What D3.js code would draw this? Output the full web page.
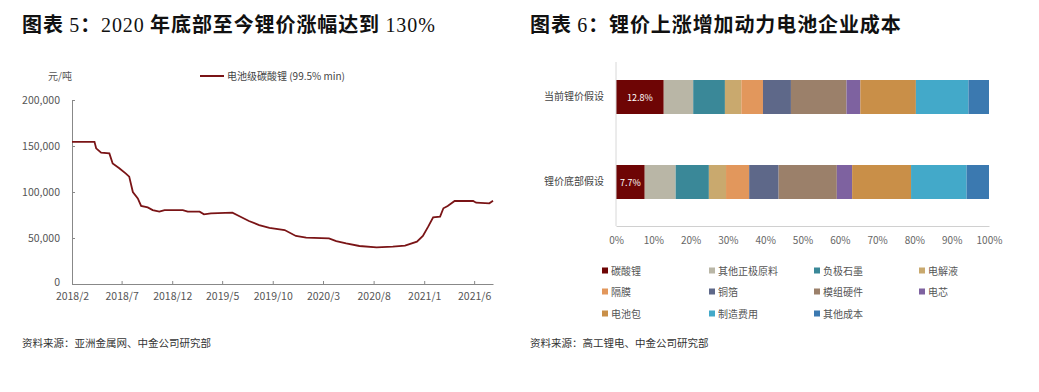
<!DOCTYPE html>
<html><head><meta charset="utf-8">
<script src="https://cdn.jsdelivr.net/npm/d3@7"></script>
<style>
body{margin:0;background:#fff;}
svg{display:block;}
text{font-family:"Noto Sans CJK SC","Noto Sans",sans-serif;}
</style></head>
<body><svg id="c" width="1039" height="392"></svg>
<script>
// ---------- Left chart data ----------
const lineDates = ["2018-02-01","2018-04-10","2018-04-15","2018-04-30","2018-05-25","2018-06-04","2018-06-24","2018-07-14","2018-07-24","2018-08-04","2018-08-19","2018-08-29","2018-09-18","2018-10-03","2018-10-23","2018-11-08","2019-01-02","2019-01-17","2019-02-22","2019-03-07","2019-03-28","2019-06-01","2019-06-21","2019-07-21","2019-08-21","2019-09-21","2019-11-06","2019-12-10","2020-01-10","2020-03-19","2020-04-10","2020-05-10","2020-06-19","2020-08-10","2020-09-28","2020-11-04","2020-12-10","2020-12-28","2021-01-13","2021-01-28","2021-02-18","2021-02-28","2021-03-13","2021-04-03","2021-05-29","2021-06-07","2021-07-17","2021-07-28"];
const lineValues = [154500,154500,147500,142700,142000,131000,125800,120000,116700,100000,93000,84800,83300,80400,78600,80400,80400,78600,78600,75700,76800,77600,73900,68500,64100,61000,58700,52200,50300,49600,46700,44200,41300,39900,40600,41700,46000,52200,62300,72500,73200,82300,84800,90200,90200,88400,87700,90500];
const xTickLabels = ["2018/2","2018/7","2018/12","2019/5","2019/10","2020/3","2020/8","2021/1","2021/6"];
const yTicks = [0,50000,100000,150000,200000];
const lineSeriesName = "电池级碳酸锂 (99.5% min)";

// ---------- Right chart data ----------
const barCategories = ["当前锂价假设","锂价底部假设"];
const costItems = ["碳酸锂","其他正极原料","负极石墨","电解液","隔膜","铜箔","模组硬件","电芯","电池包","制造费用","其他成本"];
const currentShares = [12.8,7.9,8.5,4.4,5.8,7.5,14.9,3.7,14.9,14.1,5.5];
const bottomShares  = [7.7,8.3,8.9,4.6,6.2,7.9,15.6,4.1,15.8,14.9,6.0];
const xPctTicks = [0,10,20,30,40,50,60,70,80,90,100];
const costColors = ["#6e0505","#b9b6a6","#3a8898","#c9a96e","#e2975c","#5e6889","#9b806a","#7e62a0","#c98f48","#43a9c9","#3b79b0"];

const svg = d3.select("#c");

// ---------- Titles ----------
function title(x, parts){
  const t = svg.append("text").attr("x",x).attr("y",32).attr("font-size",20).attr("letter-spacing",0.9).attr("fill","#111");
  parts.forEach(p=>{
    t.append("tspan").text(p[0])
     .attr("font-family", p[1] ? "'Liberation Serif',serif" : "'Noto Sans CJK SC',sans-serif")
     .attr("font-weight", p[1] ? 400 : 700);
  });
}
title(22, [["图表 ",0],["5",1],["：",0],["2020",1],[" 年底部至今锂价涨幅达到 ",0],["130%",1]]);
title(530, [["图表 ",0],["6",1],["：锂价上涨增加动力电池企业成本",0]]);

// ---------- Left line chart ----------
const parse = d3.timeParse("%Y-%m-%d");
const lineData = lineDates.map((d,i)=>({d:parse(d), v:lineValues[i]}));
const x = d3.scaleTime().domain([parse("2018-02-01"), parse("2021-07-28")]).range([72, 493]);
const y = d3.scaleLinear().domain([0,200000]).range([284,100]);
const tickDates = xTickLabels.map(s=>{const [yy,mm]=s.split("/"); return new Date(+yy, +mm-1, 1);});

const gx = svg.append("g").attr("transform","translate(0,284)")
  .call(d3.axisBottom(x).tickValues(tickDates).tickFormat((d,i)=>xTickLabels[i]).tickSizeInner(-3).tickSizeOuter(0).tickPadding(9));
gx.select(".domain").attr("stroke","#888");
gx.selectAll(".tick line").attr("stroke","#888");
gx.selectAll("text").attr("fill","#555").attr("font-size",10.5).attr("font-family","'Open Sans','Noto Sans',sans-serif");

const gy = svg.append("g").attr("transform","translate(72,0)")
  .call(d3.axisLeft(y).tickValues(yTicks).tickFormat(d3.format(",")).tickSizeInner(-3).tickSizeOuter(0).tickPadding(12));
gy.select(".domain").attr("stroke","#888");
gy.selectAll(".tick line").attr("stroke","#888");
gy.selectAll("text").attr("fill","#555").attr("font-size",10.5).attr("font-family","'Open Sans','Noto Sans',sans-serif");
gy.selectAll(".tick").filter(d=>d===0).select("text").attr("dy","0.1em");

svg.append("text").attr("x",48).attr("y",80).attr("font-size",10).attr("fill","#555").text("元/吨");

svg.append("path").datum(lineData)
  .attr("fill","none").attr("stroke","#7a1416").attr("stroke-width",1.8)
  .attr("d", d3.line().x(d=>x(d.d)).y(d=>y(d.v)).curve(d3.curveLinear));

svg.append("line").attr("x1",200).attr("x2",224).attr("y1",76).attr("y2",76).attr("stroke","#7a1416").attr("stroke-width",2);
svg.append("text").attr("x",227).attr("y",80).attr("font-size",10).attr("fill","#444").text(lineSeriesName);

// ---------- Right stacked bar chart ----------
const xb = d3.scaleLinear().domain([0,100]).range([616,989]);
const yb = d3.scaleBand().domain(barCategories).range([54.5,224.5]).paddingInner(0.6).paddingOuter(0.3);
const shareRows = [currentShares, bottomShares];
const rows = barCategories.map((c,i)=>{
  const o = {cat:c}; costItems.forEach((k,j)=>o[k]=shareRows[i][j]); return o;
});
const stack = d3.stack().keys(costItems)(rows);
const color = d3.scaleOrdinal().domain(costItems).range(costColors);

svg.append("g").selectAll("g").data(stack).join("g").attr("fill",s=>color(s.key))
  .selectAll("rect").data(s=>s).join("rect")
  .attr("x",d=>xb(d[0])).attr("width",d=>xb(d[1])-xb(d[0]))
  .attr("y",d=>yb(d.data.cat)).attr("height",yb.bandwidth());

// value labels on lithium carbonate segment
svg.append("g").selectAll("text").data(stack[0]).join("text")
  .attr("x",d=>(xb(d[0])+xb(d[1]))/2).attr("y",d=>yb(d.data.cat)+yb.bandwidth()/2+3.5)
  .attr("text-anchor","middle").attr("font-size",9).attr("fill","#fff")
  .attr("font-family","'Open Sans','Noto Sans',sans-serif")
  .text(d=>d3.format(".1f")(d[1]-d[0])+"%");

const gbx = svg.append("g").attr("transform","translate(0,226)")
  .call(d3.axisBottom(xb).tickValues(xPctTicks).tickFormat(d=>d+"%").tickSize(0).tickPadding(11));
gbx.select(".domain").attr("stroke","#d0d0d0");
gbx.selectAll("text").attr("fill","#666").attr("font-size",10).attr("font-family","'Open Sans','Noto Sans',sans-serif");

const gby = svg.append("g").attr("transform","translate(616,0)")
  .call(d3.axisLeft(yb).tickSize(0).tickPadding(12));
gby.select(".domain").attr("stroke","#d8d8d8").attr("d","M0,62V226");
gby.selectAll("text").attr("fill","#444").attr("font-size",10);

// legend
const lgCols = [602,709,814,919];
const lgRows = [271,292,314];
const lg = svg.append("g").selectAll("g").data(costItems).join("g")
  .attr("transform",(d,i)=>`translate(${lgCols[i%4]},${lgRows[Math.floor(i/4)]})`);
lg.append("rect").attr("x",0).attr("y",-3.5).attr("width",6).attr("height",6).attr("fill",d=>color(d));
lg.append("text").attr("x",9).attr("y",3.5).attr("font-size",10).attr("fill","#555").text(d=>d);

// sources
svg.append("text").attr("x",22).attr("y",347).attr("font-size",10.5).attr("fill","#333").text("资料来源：亚洲金属网、中金公司研究部");
svg.append("text").attr("x",530).attr("y",347).attr("font-size",10.5).attr("fill","#333").text("资料来源：高工锂电、中金公司研究部");
</script></body></html>
